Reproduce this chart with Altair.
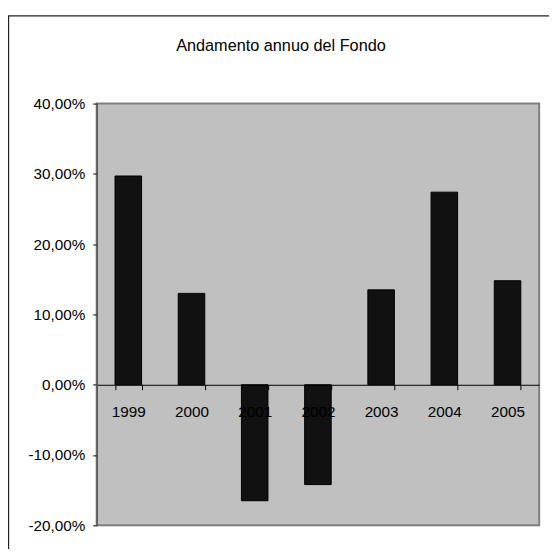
import altair as alt
import pandas as pd

years = ["1999", "2000", "2001", "2002", "2003", "2004", "2005"]
returns = [0.297, 0.130, -0.165, -0.142, 0.135, 0.274, 0.148]
y_ticks = [-0.2, -0.1, 0.0, 0.1, 0.2, 0.3, 0.4]
title_text = "Andamento annuo del Fondo"

df = pd.DataFrame({"year": years, "ret": returns})

W, H = 449, 428
FONT = "Liberation Sans"

x_scale = alt.Scale(domain=years, paddingInner=0.58, paddingOuter=0.29)
y_scale = alt.Scale(domain=[-0.2, 0.4], nice=False, zero=False)

one = pd.DataFrame({"a": [0]})

plot_bg = alt.Chart(one).mark_rect(fill="#C0C0C0", stroke="#808080", strokeWidth=2).encode(
    x=alt.value(0), x2=alt.value(W), y=alt.value(0), y2=alt.value(H))

bars = alt.Chart(df).mark_bar(color="#111111", stroke="#000000", strokeWidth=1).encode(
    x=alt.X("year:N", scale=x_scale, sort=years,
            axis=alt.Axis(title=None, orient="bottom", offset=-H / 3, labelAngle=0,
                          tickBand="extent", tickSize=5, tickColor="#000000",
                          domainColor="#000000", domainWidth=1.2, zindex=2,
                          labelFont=FONT, labelFontSize=15.5, labelColor="#000000",
                          labelPadding=15)),
    y=alt.Y("ret:Q", scale=y_scale,
            axis=alt.Axis(title=None, values=y_ticks, grid=False, tickSize=4,
                          tickColor="#000000", domainColor="#555555", domainWidth=1.5,
                          zindex=2,
                          labelFont=FONT, labelFontSize=15.5, labelColor="#000000",
                          labelPadding=8,
                          labelExpr="replace(replace(format(datum.value, '.2%'), '.', ','), '\u2212', '-')")),
)

title = alt.Chart(pd.DataFrame({"t": [title_text]})).mark_text(
    font=FONT, fontSize=16.5, color="#000000", baseline="alphabetic", align="center"
).encode(text="t:N", x=alt.value(187), y=alt.value(-53))

top_border = alt.Chart(one).mark_rule(color="#222222", strokeWidth=1.2).encode(
    x=alt.value(-90), x2=alt.value(W + 10), y=alt.value(-89))
left_border = alt.Chart(one).mark_rule(color="#222222", strokeWidth=1.2).encode(
    x=alt.value(-89.4), y=alt.value(-89), y2=alt.value(H + 40))

chart = alt.layer(top_border, left_border, plot_bg, bars, title).properties(
    width=W, height=H,
    padding={"left": 90, "top": 93, "right": 10, "bottom": 20},
    autosize=alt.AutoSizeParams(type="none"),
).configure_view(
    stroke=None
).configure(background="#FFFFFF")

chart.save("out.html", embed_options={"renderer": "svg", "actions": False})
